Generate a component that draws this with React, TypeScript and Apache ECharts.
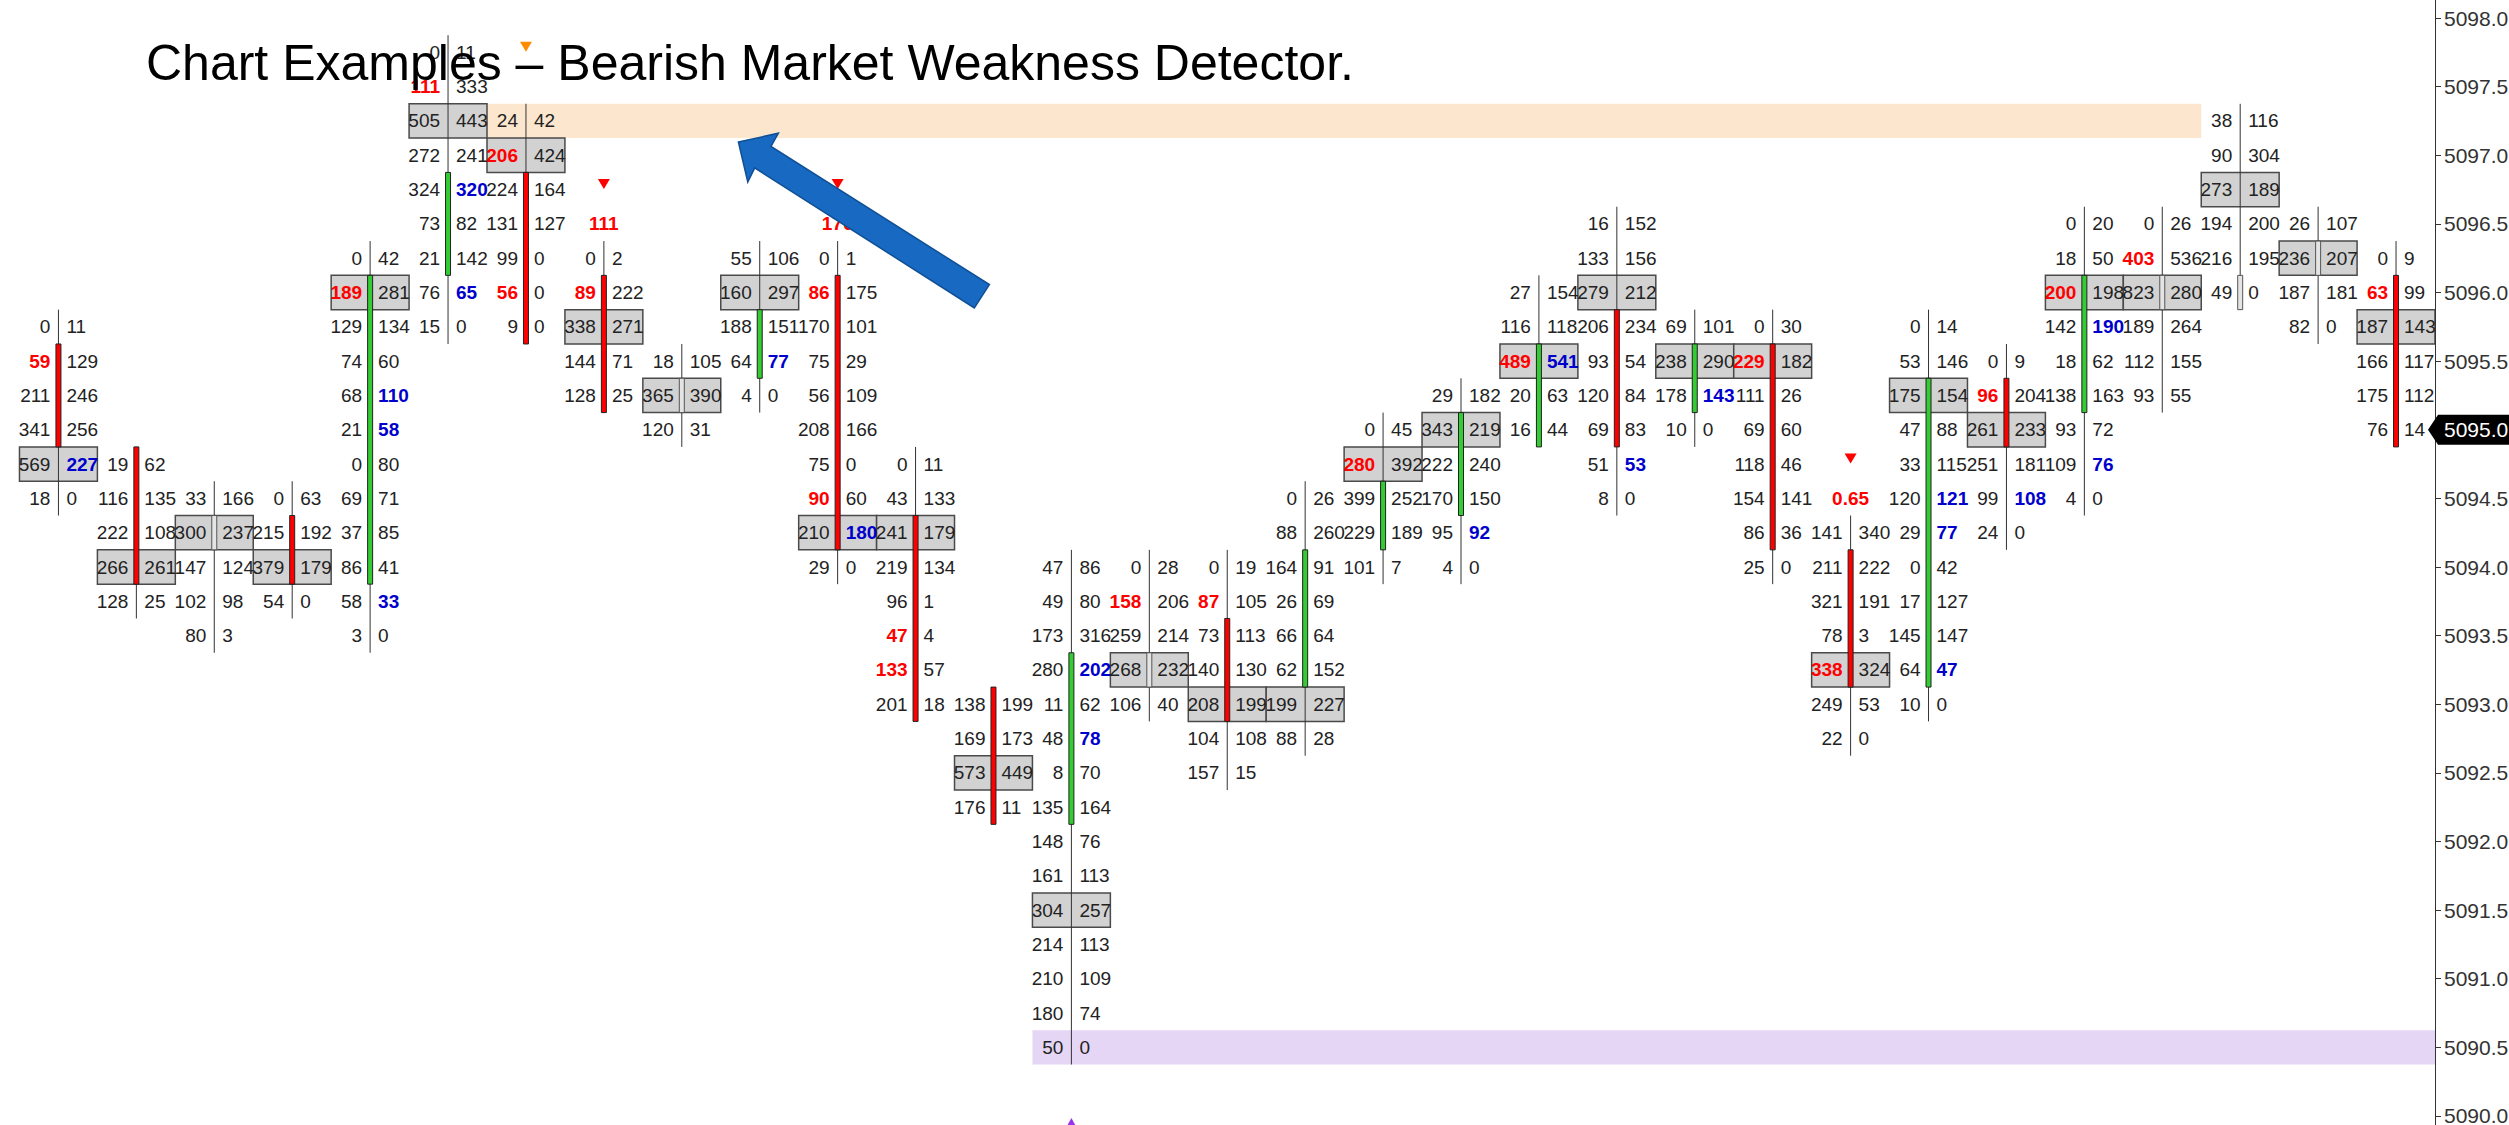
import React, { useEffect, useRef } from "react";
import * as echarts from "echarts";

const TICK = 0.25;
const FONT = '"Liberation Sans", Arial, Helvetica, sans-serif';

const colHigh = [5095.75, 5094.75, 5094.5, 5094.5, 5096.25, 5097.75, 5097.25, 5096.25, 5095.5, 5096.25, 5096.25, 5094.75, 5093.0, 5094.0, 5094.0, 5094.0, 5094.5, 5095.0, 5095.25, 5096.0, 5096.5, 5095.75, 5095.75, 5094.25, 5095.75, 5095.5, 5096.5, 5096.5, 5097.25, 5096.5, 5096.25];
const colOpen = [5095.5, 5094.75, 5094.25, 5094.25, 5094.0, 5096.25, 5096.75, 5096.0, 5095.25, 5095.5, 5096.0, 5094.25, 5093.0, 5092.25, 5093.25, 5093.5, 5093.25, 5094.25, 5094.5, 5095.0, 5095.75, 5095.25, 5095.5, 5094.0, 5093.25, 5095.25, 5095.25, 5096.0, 5096.0, 5096.25, 5096.0];
const colClose = [5095.0, 5094.0, 5094.25, 5094.0, 5096.0, 5096.75, 5095.75, 5095.25, 5095.25, 5095.75, 5094.25, 5093.0, 5092.25, 5093.25, 5093.25, 5093.0, 5094.0, 5094.5, 5095.0, 5095.5, 5095.0, 5095.5, 5094.25, 5093.25, 5095.25, 5095.0, 5096.0, 5096.0, 5096.0, 5096.25, 5095.0];

// bid (left) and ask (right) volumes, listed from the high of each bar downwards
const bidVol = [
  [0, 59, 211, 341, 569, 18],
  [19, 116, 222, 266, 128],
  [33, 300, 147, 102, 80],
  [0, 215, 379, 54],
  [0, 189, 129, 74, 68, 21, 0, 69, 37, 86, 58, 3],
  [0, 111, 505, 272, 324, 73, 21, 76, 15],
  [24, 206, 224, 131, 99, 56, 9],
  [0, 89, 338, 144, 128],
  [18, 365, 120],
  [55, 160, 188, 64, 4],
  [0, 86, 170, 75, 56, 208, 75, 90, 210, 29],
  [0, 43, 241, 219, 96, 47, 133, 201],
  [138, 169, 573, 176],
  [47, 49, 173, 280, 11, 48, 8, 135, 148, 161, 304, 214, 210, 180, 50],
  [0, 158, 259, 268, 106],
  [0, 87, 73, 140, 208, 104, 157],
  [0, 88, 164, 26, 66, 62, 199, 88],
  [0, 280, 399, 229, 101],
  [29, 343, 222, 170, 95, 4],
  [27, 116, 489, 20, 16],
  [16, 133, 279, 206, 93, 120, 69, 51, 8],
  [69, 238, 178, 10],
  [0, 229, 111, 69, 118, 154, 86, 25],
  [141, 211, 321, 78, 338, 249, 22],
  [0, 53, 175, 47, 33, 120, 29, 0, 17, 145, 64, 10],
  [0, 96, 261, 251, 99, 24],
  [0, 18, 200, 142, 18, 138, 93, 109, 4],
  [0, 403, 823, 189, 112, 93],
  [38, 90, 273, 194, 216, 49],
  [26, 236, 187, 82],
  [0, 63, 187, 166, 175, 76],
];
const askVol = [
  [11, 129, 246, 256, 227, 0],
  [62, 135, 108, 261, 25],
  [166, 237, 124, 98, 3],
  [63, 192, 179, 0],
  [42, 281, 134, 60, 110, 58, 80, 71, 85, 41, 33, 0],
  [11, 333, 443, 241, 320, 82, 142, 65, 0],
  [42, 424, 164, 127, 0, 0, 0],
  [2, 222, 271, 71, 25],
  [105, 390, 31],
  [106, 297, 151, 77, 0],
  [1, 175, 101, 29, 109, 166, 0, 60, 180, 0],
  [11, 133, 179, 134, 1, 4, 57, 18],
  [199, 173, 449, 11],
  [86, 80, 316, 202, 62, 78, 70, 164, 76, 113, 257, 113, 109, 74, 0],
  [28, 206, 214, 232, 40],
  [19, 105, 113, 130, 199, 108, 15],
  [26, 260, 91, 69, 64, 152, 227, 28],
  [45, 392, 252, 189, 7],
  [182, 219, 240, 150, 92, 0],
  [154, 118, 541, 63, 44],
  [152, 156, 212, 234, 54, 84, 83, 53, 0],
  [101, 290, 143, 0],
  [30, 182, 26, 60, 46, 141, 36, 0],
  [340, 222, 191, 3, 324, 53, 0],
  [14, 146, 154, 88, 115, 121, 77, 42, 127, 147, 47, 0],
  [9, 204, 233, 181, 108, 0],
  [20, 50, 198, 190, 62, 163, 72, 76, 0],
  [26, 536, 280, 264, 155, 55],
  [116, 304, 189, 200, 195, 0],
  [107, 207, 181, 0],
  [9, 99, 143, 117, 112, 14],
];

// highest-volume (grey boxed) price of each bar
const pocPrice = [5094.75, 5094.0, 5094.25, 5094.0, 5096.0, 5097.25, 5097.0, 5095.75, 5095.25, 5096.0, 5094.25, 5094.25, 5092.5, 5091.5, 5093.25, 5093.0, 5093.0, 5094.75, 5095.0, 5095.5, 5096.0, 5095.5, 5095.5, 5093.25, 5095.25, 5095.0, 5096.0, 5096.0, 5096.75, 5096.25, 5095.75];

// [bar, price] of highlighted bid (red) and ask (blue) values
const redBid = [[0, 5095.5], [4, 5096.0], [5, 5097.5], [6, 5097.0], [6, 5096.0], [7, 5096.0], [10, 5096.0], [10, 5094.5], [11, 5093.5], [11, 5093.25], [14, 5093.75], [15, 5093.75], [17, 5094.75], [19, 5095.5], [22, 5095.5], [23, 5093.25], [25, 5095.25], [26, 5096.0], [27, 5096.25], [30, 5096.0]];
const blueAsk = [[0, 5094.75], [4, 5095.25], [4, 5095.0], [4, 5093.75], [5, 5096.75], [5, 5096.0], [9, 5095.5], [10, 5094.25], [13, 5093.25], [13, 5092.75], [18, 5094.25], [19, 5095.5], [20, 5094.75], [21, 5095.25], [24, 5094.5], [24, 5094.25], [24, 5093.25], [25, 5094.5], [26, 5095.75], [26, 5094.75]];

// signals
const signalBar = [6, 7, 10, 23, 13];
const signalPrice = [5097.75, 5096.75, 5096.75, 5094.75, 5090.0];
const signalLabel = ["", "111", "170", "0.65", ""];
const signalDir = ["down", "down", "down", "down", "up"];
const signalColor = ["#ff8c00", "#ff0000", "#ff0000", "#ff0000", "#9933ee"];

// zones
const bandFrom = [4.5, 12.5];
const bandTo = [27.5, 30.5];
const bandPrice = [5097.25, 5090.5];
const bandColor = ["#fde6ce", "#e6d6f5"];

const lastPrice = 5095.0;

const eq = (a: number, b: number) => Math.abs(a - b) < 1e-6;

export default function App() {
  const ref = useRef<HTMLDivElement>(null);
  useEffect(() => {
    if (!ref.current) return;
    const chart = echarts.init(ref.current, null, { renderer: "svg" });

    const cells: any[] = [];
    bidVol.forEach((bids, i) => {
      bids.forEach((b, k) => {
        const p = colHigh[i] - TICK * k;
        cells.push({
          col: i,
          price: p,
          bid: b,
          ask: askVol[i][k],
          red: redBid.some((r) => r[0] === i && eq(r[1], p)),
          blue: blueAsk.some((r) => r[0] === i && eq(r[1], p)),
        });
      });
    });

    const candles = colHigh.map((h, i) => [i, colOpen[i], colClose[i], h, h - TICK * (bidVol[i].length - 1)]);

    const option: any = {
      animation: false,
      backgroundColor: "#ffffff",
      grid: { left: 0, right: 74, top: -50.6, bottom: -59.6, containLabel: false, outerBoundsMode: "none" },
      xAxis: { type: "value", min: -0.75, max: 30.5, show: false },
      yAxis: {
        type: "value",
        position: "right",
        min: 5089.5,
        max: 5098.5,
        interval: 0.5,
        axisLine: { show: true, onZero: false, lineStyle: { color: "#333", width: 1 } },
        axisTick: { show: true, length: 6, lineStyle: { color: "#333" } },
        axisLabel: { margin: 9, color: "#333", fontSize: 21, fontFamily: FONT, showMinLabel: false, showMaxLabel: false, formatter: (v: number) => v.toFixed(1) },
        splitLine: { show: false },
      },
      series: [
        {
          type: "custom",
          z: 1,
          clip: true,
          data: bandPrice.map((p, i) => [bandFrom[i], p, bandTo[i]]),
          renderItem: (params: any, api: any) => {
            const i = params.dataIndex;
            const a = api.coord([api.value(0), api.value(1) + TICK / 2]);
            const b = api.coord([api.value(2), api.value(1) - TICK / 2]);
            return { type: "rect", shape: { x: a[0], y: a[1], width: b[0] - a[0], height: b[1] - a[1] }, style: { fill: bandColor[i] } };
          },
        },
        {
          type: "custom",
          z: 2,
          clip: true,
          data: pocPrice.map((p, i) => [i, p]),
          renderItem: (params: any, api: any) => {
            const pt = api.coord([api.value(0), api.value(1)]);
            const w = api.size([1, 0])[0];
            const h = api.size([0, TICK])[1];
            return { type: "rect", shape: { x: pt[0] - w / 2, y: pt[1] - h / 2, width: w, height: h }, style: { fill: "#d2d2d2", stroke: "#4a4a4a", lineWidth: 1.5 } };
          },
        },
        {
          type: "custom",
          z: 3,
          clip: true,
          data: candles,
          renderItem: (params: any, api: any) => {
            const c = api.value(0), o = api.value(1), cl = api.value(2), hi = api.value(3), lo = api.value(4);
            const top = api.coord([c, hi + TICK / 2]);
            const bot = api.coord([c, lo - TICK / 2]);
            const bt = api.coord([c, Math.max(o, cl) + TICK / 2]);
            const bb = api.coord([c, Math.min(o, cl) - TICK / 2]);
            const fill = cl > o ? "#33cc33" : cl < o ? "#ff0000" : "#e4e4e4";
            const stroke = cl === o ? "#555" : "#222";
            return {
              type: "group",
              children: [
                { type: "line", shape: { x1: top[0], y1: top[1], x2: bot[0], y2: bot[1] }, style: { stroke: "#333", lineWidth: 1 } },
                { type: "rect", shape: { x: bt[0] - 2.5, y: bt[1], width: 5, height: bb[1] - bt[1] }, style: { fill, stroke, lineWidth: 1 } },
              ],
            };
          },
        },
        {
          type: "custom",
          z: 4,
          clip: true,
          data: cells.map((c) => [c.col, c.price]),
          renderItem: (params: any, api: any) => {
            const cell = cells[params.dataIndex];
            const pt = api.coord([api.value(0), api.value(1)]);
            return {
              type: "group",
              children: [
                {
                  type: "text",
                  x: pt[0] - 8,
                  y: pt[1],
                  style: {
                    text: String(cell.bid),
                    fill: cell.red ? "#ff0000" : "#222",
                    fontSize: 19,
                    fontFamily: FONT,
                    fontWeight: cell.red ? "bold" : "normal",
                    align: "right",
                    textAlign: "right",
                    verticalAlign: "middle",
                    textVerticalAlign: "middle",
                  },
                },
                {
                  type: "text",
                  x: pt[0] + 8,
                  y: pt[1],
                  style: {
                    text: String(cell.ask),
                    fill: cell.blue ? "#0000cc" : "#222",
                    fontSize: 19,
                    fontFamily: FONT,
                    fontWeight: cell.blue ? "bold" : "normal",
                    align: "left",
                    textAlign: "left",
                    verticalAlign: "middle",
                    textVerticalAlign: "middle",
                  },
                },
              ],
            };
          },
        },
        {
          type: "custom",
          z: 5,
          clip: false,
          data: signalBar.map((b, i) => [b, signalPrice[i]]),
          renderItem: (params: any, api: any) => {
            const i = params.dataIndex;
            const pt = api.coord([api.value(0), api.value(1)]);
            const col = signalColor[i];
            const pts = signalDir[i] === "up"
              ? [[pt[0], pt[1] + 2], [pt[0] - 6, pt[1] + 13], [pt[0] + 6, pt[1] + 13]]
              : [[pt[0] - 6, pt[1] - 10.5], [pt[0] + 6, pt[1] - 10.5], [pt[0], pt[1] - 0.5]];
            const children: any[] = [{ type: "polygon", shape: { points: pts }, style: { fill: col } }];
            if (signalLabel[i]) {
              const lp = api.coord([api.value(0), api.value(1) - TICK]);
              children.push({
                type: "text",
                x: lp[0],
                y: lp[1],
                style: {
                  text: signalLabel[i],
                  fill: col,
                  fontSize: 19,
                  fontWeight: "bold",
                  fontFamily: FONT,
                  align: "center",
                  textAlign: "center",
                  verticalAlign: "middle",
                  textVerticalAlign: "middle",
                },
              });
            }
            return { type: "group", children };
          },
        },
        {
          type: "custom",
          z: 10,
          clip: false,
          data: [[30.5, lastPrice]],
          renderItem: (params: any, api: any) => {
            const pt = api.coord([api.value(0), api.value(1)]);
            const x = pt[0], y = pt[1];
            return {
              type: "group",
              children: [
                { type: "polygon", shape: { points: [[x - 7, y], [x + 3, y - 15], [x + 80, y - 15], [x + 80, y + 15], [x + 3, y + 15]] }, style: { fill: "#000" } },
                {
                  type: "text",
                  x: x + 9,
                  y: y,
                  style: { text: lastPrice.toFixed(1), fill: "#fff", fontSize: 21, fontFamily: FONT, align: "left", textAlign: "left", verticalAlign: "middle", textVerticalAlign: "middle" },
                },
              ],
            };
          },
        },
      ],
      graphic: [
        {
          type: "polygon",
          z: 100,
          shape: { points: [[738.4, 142.1], [778.4, 133.2], [771, 146.4], [989.4, 284.6], [974.3, 307.9], [754.7, 167.9], [747.8, 182.1]] },
          style: { fill: "#1769c2", stroke: "#0f4f95", lineWidth: 1.5 },
        },
        {
          type: "text",
          z: 101,
          x: 146,
          y: 63,
          style: {
            text: "Chart Examples – Bearish Market Weakness Detector.",
            fill: "#000",
            fontSize: 50,
            fontFamily: FONT,
            align: "left",
            textAlign: "left",
            verticalAlign: "middle",
            textVerticalAlign: "middle",
          },
        },
      ],
    };

    chart.setOption(option);
    return () => chart.dispose();
  }, []);
  return <div ref={ref} style={{ position: "absolute", left: 0, top: 0, width: 2509, height: 1125, background: "#fff" }} />;
}
